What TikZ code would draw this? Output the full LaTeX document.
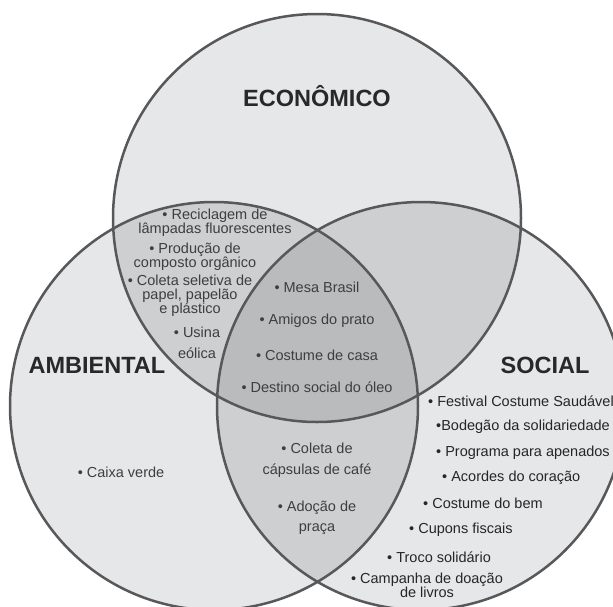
\documentclass[tikz,border=0pt]{standalone}
\usepackage{fontspec}
\setmainfont{Liberation Sans}
\definecolor{ringfill}{RGB}{230,231,233}
\definecolor{pairfill}{RGB}{206,207,209}
\definecolor{triplefill}{RGB}{186,187,189}
\definecolor{ringedge}{RGB}{88,88,90}
\definecolor{titleink}{RGB}{40,40,42}
\definecolor{itemink}{RGB}{62,62,64}
\definecolor{socialink}{RGB}{38,38,40}
\begin{document}
\begin{tikzpicture}[x=1pt,y=-1pt,
  heading/.style={inner sep=0pt, text=titleink, font=\fontsize{23.5}{26}\selectfont\bfseries},
  item/.style={inner sep=0pt, align=center, text=itemink, font=\fontsize{14.5}{14}\selectfont},
  loose/.style={item, font=\fontsize{14.5}{20.5}\selectfont},
  socitem/.style={inner sep=0pt, anchor=west, text=socialink, font=\fontsize{14.5}{14}\selectfont},
  ring/.style={draw=ringedge, line width=2.5pt}]
\useasboundingbox (0,0) rectangle (613,606);
\fill[white] (0,0) rectangle (613,606);

% circle centres and radius
\coordinate (E) at (317,218);
\coordinate (A) at (214,406);
\coordinate (S) at (421,406);
\def\rr{204pt}

% base fills
\fill[ringfill] (E) circle[radius=\rr];
\fill[ringfill] (A) circle[radius=\rr];
\fill[ringfill] (S) circle[radius=\rr];

% pairwise overlaps
\begin{scope}\clip (E) circle[radius=\rr]; \fill[pairfill] (A) circle[radius=\rr];\end{scope}
\begin{scope}\clip (E) circle[radius=\rr]; \fill[pairfill] (S) circle[radius=\rr];\end{scope}
\begin{scope}\clip (A) circle[radius=\rr]; \fill[pairfill] (S) circle[radius=\rr];\end{scope}

% centre overlap
\begin{scope}
  \clip (E) circle[radius=\rr];
  \clip (A) circle[radius=\rr];
  \fill[triplefill] (S) circle[radius=\rr];
\end{scope}

% outlines
\draw[ring] (E) circle[radius=\rr];
\draw[ring] (A) circle[radius=\rr];
\draw[ring] (S) circle[radius=\rr];

% headings
\node[heading] (eco) at (317,96) {ECONÔMICO};
\node[heading] (amb) at (97,365) {AMBIENTAL};
\node[heading] (soc) at (545,365) {SOCIAL};

% economic + environmental
\node[item] (ea1) at (215,223) {• Reciclagem de\\lâmpadas fluorescentes};
\node[item] (ea2) at (195,257) {• Produção de\\composto orgânico};
\node[item] (ea3) at (190,296) {• Coleta seletiva de\\papel, papelão\\e plástico};
\node[loose] (ea4) at (197,343) {• Usina\\eólica};

% all three
\node[item] (t1) at (317,287) {• Mesa Brasil};
\node[item] (t2) at (317,321) {• Amigos do prato};
\node[item] (t3) at (317,355) {• Costume de casa};
\node[item] (t4) at (317,387) {• Destino social do óleo};

% environmental + social
\node[loose] (as1) at (317,460) {• Coleta de\\cápsulas de café};
\node[loose] (as2) at (317,518) {• Adoção de\\praça};

% environmental only
\node[item] (a1) at (121,472) {• Caixa verde};

% social only
\node[socitem] (s1) at (428,401) {• Festival Costume Saudável};
\node[socitem] (s2) at (436,427) {•Bodegão da solidariedade};
\node[socitem] (s3) at (436,453) {• Programa para apenados};
\node[socitem] (s4) at (442,478) {• Acordes do coração};
\node[socitem] (s5) at (423,503) {• Costume do bem};
\node[socitem] (s6) at (409,530) {• Cupons fiscais};
\node[socitem] (s7) at (387,557) {• Troco solidário};
\node[item, text=socialink] (s8) at (427,585) {• Campanha de doação\\de livros};
\end{tikzpicture}
\end{document}
